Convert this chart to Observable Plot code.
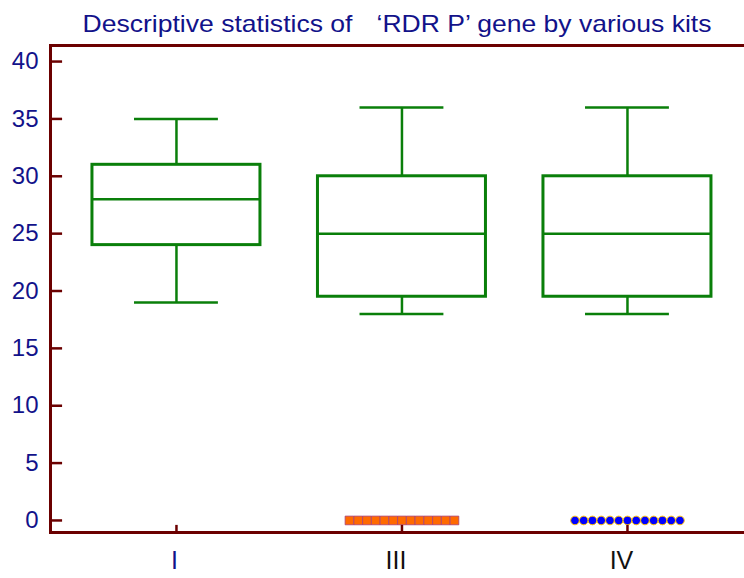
<!DOCTYPE html>
<html><head><meta charset="utf-8">
<script src="https://cdn.jsdelivr.net/npm/d3@7"></script>
<script src="https://cdn.jsdelivr.net/npm/@observablehq/plot@0.6"></script>
<style>body{margin:0;background:#fff;font-family:Arial,"Liberation Sans",sans-serif}</style>
</head><body><div id="chart"></div>
<script>
const kits = ["I", "III", "IV"];
const whiskerLow = [19, 18, 18];
const q1 = [24, 19.5, 19.5];
const median = [28, 25, 25];
const q3 = [31, 30, 30];
const whiskerHigh = [35, 36, 36];
const zeroCounts = [0, 13, 13];   // number of zero-valued observations per kit
const yTicks = [0, 5, 10, 15, 20, 25, 30, 35, 40];
const titleLeft = "Descriptive statistics of";
const titleRight = "\u2018RDR P\u2019 gene by various kits";

const boxes = kits.map((k, i) => ({k, i, lo: whiskerLow[i], q1: q1[i], med: median[i], q3: q3[i], hi: whiskerHigh[i]}));
const xMin = -0.563, xMax = 2.519, yMin = -1.05, yMax = 41.4;
const halfBox = 0.3725, halfCap = 0.186, dotStep = 0.0388;
const zeros = [];
kits.forEach((k, i) => { for (let j = 0; j < zeroCounts[i]; j++) zeros.push({k, x: i + (j - (zeroCounts[i] - 1) / 2) * dotStep, y: 0}); });
const kitLabels = kits.map((k, i) => ({k, i}));

const axisCol = "#6b0000", green = "#0a7f0a", navy = "#12128a";
const chart = Plot.plot({
  width: 744, height: 578,
  marginLeft: 49, marginRight: 0, marginTop: 45, marginBottom: 46,
  x: {domain: [xMin, xMax], axis: null},
  y: {domain: [yMin, yMax], axis: null},
  style: {fontFamily: "Arial, 'Liberation Sans', sans-serif", background: "#fff"},
  marks: [
    Plot.ruleX(boxes, {x: "i", y1: "q3", y2: "hi", stroke: green, strokeWidth: 2.5}),
    Plot.ruleX(boxes, {x: "i", y1: "lo", y2: "q1", stroke: green, strokeWidth: 2.5}),
    Plot.ruleY(boxes, {y: "hi", x1: d => d.i - halfCap, x2: d => d.i + halfCap, stroke: green, strokeWidth: 2.5}),
    Plot.ruleY(boxes, {y: "lo", x1: d => d.i - halfCap, x2: d => d.i + halfCap, stroke: green, strokeWidth: 2.5}),
    Plot.rect(boxes, {x1: d => d.i - halfBox, x2: d => d.i + halfBox, y1: "q1", y2: "q3", fill: "none", stroke: green, strokeWidth: 3}),
    Plot.ruleY(boxes, {y: "med", x1: d => d.i - halfBox, x2: d => d.i + halfBox, stroke: green, strokeWidth: 2.5}),
    Plot.dot(zeros.filter(d => d.k === "III"), {x: "x", y: "y", symbol: "square", r: 4.9, fill: "#ff6a00", stroke: "#a8407a", strokeWidth: 0.8}),
    Plot.dot(zeros.filter(d => d.k === "IV"), {x: "x", y: "y", r: 4.3, fill: "#0000ff", stroke: "#ffc000", strokeWidth: 1}),
    Plot.ruleY([yMax], {stroke: axisCol, strokeWidth: 3}),
    Plot.ruleY([yMin], {stroke: axisCol, strokeWidth: 3}),
    Plot.ruleX([xMin], {stroke: axisCol, strokeWidth: 3, dx: 1}),
    Plot.ruleY(yTicks, {x1: xMin, x2: xMin + 0.058, stroke: axisCol, strokeWidth: 2.5}),
    Plot.text(yTicks, {x: xMin, y: d => d, dx: -11, textAnchor: "end", fill: navy, fontSize: 24}),
    Plot.ruleX(kitLabels, {x: "i", y1: yMin, y2: yMin + 0.62, stroke: axisCol, strokeWidth: 2.5}),
    Plot.text(kitLabels.filter(d => d.k === "I"), {x: "i", y: yMin, dy: 28, dx: -2, text: "k", fill: navy, fontSize: 25}),
    Plot.text(kitLabels.filter(d => d.k !== "I"), {x: "i", y: yMin, dy: 28, dx: -6, text: "k", fill: "#111", fontSize: 25}),
    Plot.text([titleLeft], {frameAnchor: "top-left", dx: 33, dy: -14, lineAnchor: "bottom", textAnchor: "start", fill: navy, fontSize: 24}),
    Plot.text([titleRight], {frameAnchor: "top-left", dx: 327, dy: -14, lineAnchor: "bottom", textAnchor: "start", fill: navy, fontSize: 24})
  ]
});
d3.select(chart).selectAll("text").each(function () {
  const t = this.textContent;
  if (t === titleLeft) d3.select(this).attr("textLength", 270).attr("lengthAdjust", "spacingAndGlyphs");
  if (t === titleRight) d3.select(this).attr("textLength", 335).attr("lengthAdjust", "spacingAndGlyphs");
});
document.getElementById("chart").appendChild(chart);
</script></body></html>
